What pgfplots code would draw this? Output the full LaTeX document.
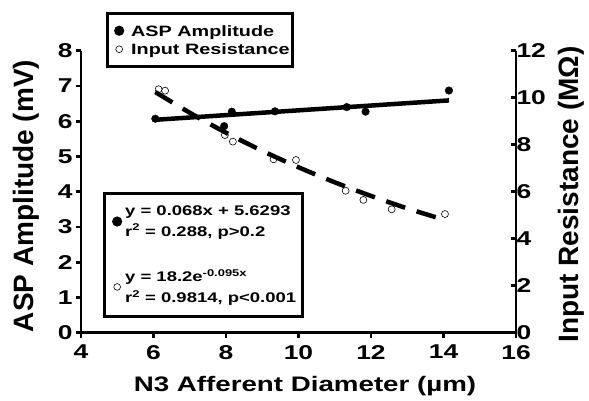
\documentclass[border=0pt]{standalone}
\usepackage{fontspec}
\setmainfont{Liberation Sans}
\newfontfamily\widefont{Liberation Sans}[FakeStretch=1.32]
\usepackage{pgfplots}
\pgfplotsset{compat=1.18}
\begin{document}
\begin{tikzpicture}
\useasboundingbox (0pt,0pt) rectangle (589pt,401pt);
\pgfplotsset{
  common/.style={
    at={(81pt,68.3pt)}, anchor=south west,
    scale only axis, width=435pt, height=282pt,
    xmin=4, xmax=16,
    axis line style={-, line width=2.8pt},
    major tick length=5pt,
    tick style={line width=2.8pt, black},
    /pgf/number format/assume math mode=true,
    ticklabel style={font=\widefont\fontsize{20}{22}\selectfont\bfseries},
  }
}
\begin{axis}[common,
  ymin=0, ymax=8,
  axis x line*=bottom, axis y line*=left,
  tick align=outside,
  xtick={4,6,8,10,12,14,16}, ytick={0,1,2,3,4,5,6,7,8},
  xticklabel style={yshift=-4pt},
  xlabel={N3 Afferent Diameter (µm)},
  ylabel={ASP Amplitude (mV)},
  every axis x label/.style={at={(axis description cs:0.515,-0.209)},anchor=base,font=\widefont\fontsize{21}{24}\selectfont\bfseries},
  every axis y label/.style={at={(axis description cs:-0.125,0.485)},anchor=center,rotate=90,font=\fontsize{28}{32}\selectfont\bfseries},
  legend image code/.code={\path[draw=none,fill=none] (-11pt,0pt) rectangle (10pt,0pt); \draw[#1] plot coordinates {(0pt,0pt)};},
  legend style={at={(axis description cs:0.057,1.137)}, anchor=north west,
    draw=black, line width=2.8pt, font=\widefont\fontsize{15}{18}\selectfont\bfseries,
    cells={anchor=west, text height=13pt, text depth=5pt, inner ysep=4pt},
    inner xsep=1pt, inner ysep=8pt, row sep=0pt},
]
\addlegendimage{only marks, mark=*, mark size=3.6pt, black}
\addlegendentry{ASP Amplitude}
\addlegendimage{only marks, mark=o, mark size=3.4pt, black, mark options={line width=0.6pt}}
\addlegendentry{Input Resistance}
\addplot[black, line width=4.5pt, forget plot] coordinates {(6.05,6.04) (14.15,6.59)};
\addplot[only marks, mark=*, mark size=3.8pt, black, forget plot] coordinates {
(6.05,6.07) (7.95,5.86) (8.16,6.27) (9.35,6.28) (11.33,6.40) (11.85,6.27) (14.15,6.87)};
\end{axis}
\begin{axis}[common,
  ymin=0, ymax=12,
  axis x line=none, axis y line*=right,
  tick align=inside,
  ytick={0,2,4,6,8,10,12},
  ylabel={Input Resistance (MΩ)},
  every axis y label/.style={at={(axis description cs:1.128,0.49)},anchor=center,rotate=90,font=\fontsize{28}{32}\selectfont\bfseries},
  yticklabel style={xshift=-3pt},
  legend image code/.code={\path[draw=none,fill=none] (-9pt,0pt) rectangle (6pt,0pt); \draw[#1] plot coordinates {(0pt,0pt)};},
  legend style={at={(axis description cs:0.05,0.499)}, anchor=north west,
    draw=black, line width=2.8pt, font=\widefont\fontsize{14}{21}\selectfont\bfseries,
    cells={anchor=west, align=left}, inner xsep=4pt, inner ysep=10pt, row sep=28pt},
]
\addlegendimage{only marks, mark=*, mark size=3.6pt, black}
\addlegendentry{y = 0.068x + 5.6293\\r\textsuperscript{2} = 0.288, p>0.2}
\addlegendimage{only marks, mark=o, mark size=3.4pt, black, mark options={line width=0.6pt}}
\addlegendentry{y = 18.2e\textsuperscript{-0.095x}\\r\textsuperscript{2} = 0.9814, p<0.001}
\addplot[black, line width=4.5pt, dash pattern=on 20pt off 12pt, smooth, forget plot] coordinates {
(6.05,10.24) (7,9.36) (8,8.51) (9,7.74) (10,7.04) (11,6.40) (12,5.82) (13,5.29) (13.8,4.91)};
\addplot[only marks, mark=o, mark size=3.5pt, black, mark options={line width=0.6pt, fill=white}, forget plot] coordinates {
(6.14,10.36) (6.32,10.30) (7.97,8.41) (8.19,8.13) (9.31,7.38) (9.93,7.35) (11.30,6.04) (11.79,5.65) (12.57,5.25) (14.04,5.05)};
\end{axis}
\end{tikzpicture}
\end{document}
